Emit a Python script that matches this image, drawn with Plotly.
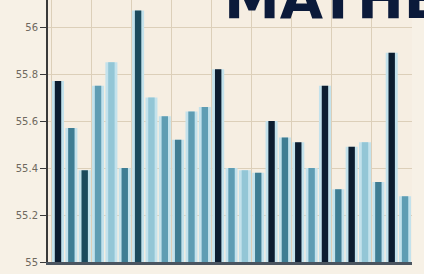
import plotly.graph_objects as go

# Data
positions = list(range(27))
values = [55.77, 55.57, 55.39, 55.75, 55.85, 55.40, 56.07, 55.70, 55.62,
          55.52, 55.64, 55.66, 55.82, 55.40, 55.39, 55.38, 55.60, 55.53,
          55.51, 55.40, 55.75, 55.31, 55.49, 55.51, 55.34, 55.89, 55.28]
tick_vals = [55.0, 55.2, 55.4, 55.6, 55.8, 56.0]
tick_text = ["55", "55.2", "55.4", "55.6", "55.8", "56"]
title_text = "MATHEMATICS"

NAVY, DTEAL, TEAL, MID, LIGHT = "#0c1d30", "#1b4a5c", "#3f7d93", "#5f9db3", "#93c6d6"
core_colors = [NAVY, TEAL, DTEAL, MID, LIGHT, TEAL, DTEAL, LIGHT, MID,
               TEAL, MID, MID, NAVY, MID, LIGHT, TEAL, NAVY, TEAL,
               NAVY, MID, NAVY, TEAL, NAVY, LIGHT, TEAL, NAVY, MID]

fig = go.Figure()
fig.add_trace(go.Bar(x=positions, y=values, width=0.9,
                     marker=dict(color="#c3e2ec", line=dict(width=0)),
                     hoverinfo="skip", showlegend=False))
fig.add_trace(go.Bar(x=positions, y=values, width=0.48,
                     marker=dict(color=core_colors, line=dict(width=0)),
                     showlegend=False))

fig.update_layout(
    barmode="overlay",
    width=424, height=274,
    margin=dict(l=48, r=12, t=0, b=12),
    paper_bgcolor="#f7f1e6",
    plot_bgcolor="#f6eee2",
    font=dict(family="DejaVu Sans", color="#6f695e"),
)
fig.update_yaxes(range=[55.0, 56.115], tickvals=tick_vals, ticktext=tick_text,
                 showgrid=True, gridcolor="#dccfb9", gridwidth=1,
                 showline=True, linecolor="#3a3a3a", linewidth=2,
                 ticks="outside", ticklen=6, tickcolor="#3a3a3a",
                 tickfont=dict(size=10, color="#6f695e"), zeroline=False)
fig.update_xaxes(range=[-0.75, 26.52], showticklabels=False,
                 tick0=-0.5, dtick=3, showgrid=True, gridcolor="#dccfb9",
                 showline=True, linecolor="#4a5560", linewidth=3,
                 ticks="", zeroline=False)

fig.add_annotation(text="<b>" + title_text + "</b>", xref="paper", yref="paper",
                   x=(222 - 48) / 364, y=1 - 33 / 262, xanchor="left", yanchor="bottom",
                   showarrow=False,
                   font=dict(family="DejaVu Sans", size=56, color="#0b1a3a"))

fig.write_html("out.html", config={"displayModeBar": False},
               post_script="document.body.style.margin='0';")
